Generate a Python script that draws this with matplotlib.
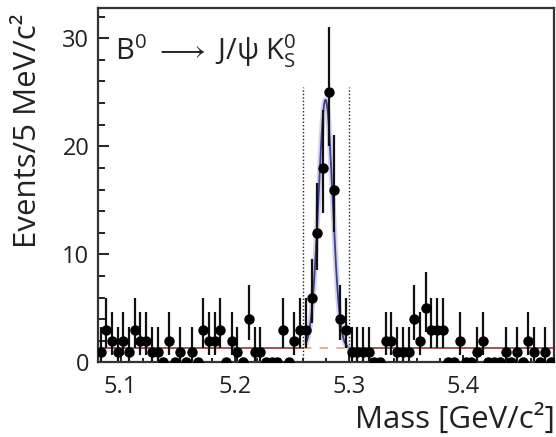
import numpy as np
import matplotlib.pyplot as plt

plt.rcParams['font.family'] = ['Open Sans', 'DejaVu Sans']
plt.rcParams['mathtext.fontset'] = 'custom'
plt.rcParams['mathtext.rm'] = 'Open Sans'
plt.rcParams['mathtext.it'] = 'Open Sans:italic'
plt.rcParams['mathtext.fallback'] = 'stixsans'

# candidates per 5 MeV bin, 5.08 - 5.48 GeV
counts = [1, 3, 2, 1, 2, 1, 3, 2, 2, 1, 1, 0, 2, 0, 1, 0, 1, 0, 3, 2,
          2, 3, 0, 2, 1, 0, 4, 1, 1, 0, 0, 0, 3, 0, 2, 3, 3, 6, 12, 18,
          25, 16, 4, 3, 1, 1, 1, 1, 0, 0, 2, 2, 1, 1, 1, 4, 2, 5, 3, 3,
          3, 0, 0, 2, 0, 0, 1, 2, 0, 0, 0, 1, 0, 1, 0, 2, 1, 0, 1, 0]
mass_lo, mass_hi = 5.08, 5.48
bin_width = 0.005

# fit result: gaussian signal over flat background
sig_mean = 5.2797
sig_sigma = 0.0062
sig_amp = 23.0
bkg_level = 1.3
window = (5.26, 5.30)

counts = np.array(counts, dtype=float)
centers = mass_lo + bin_width * (np.arange(len(counts)) + 0.5)

# approximate poisson intervals (Gehrels)
err_hi = np.sqrt(counts + 0.75) + 1.0
n_safe = np.where(counts > 0, counts, 1)
lower = n_safe * (1 - 1 / (9 * n_safe) - 1 / (3 * np.sqrt(n_safe))) ** 3
err_lo = counts - lower
nz = counts > 0

fig = plt.figure(figsize=(5.56, 4.37), dpi=100)
ax = fig.add_axes([0.1757, 0.1705, 0.8207, 0.8112])

# background line, solid outside the window, dashed underneath the peak
ax.plot([mass_lo, window[0]], [bkg_level] * 2, color='#8c3b3b', lw=1.2, zorder=2)
ax.plot([window[1], mass_hi], [bkg_level] * 2, color='#8c3b3b', lw=1.2, zorder=2)
ax.plot(window, [bkg_level] * 2, color='#e0a878', lw=1.2, ls=(0, (5, 5)), zorder=2)

# signal + background fit
xf = np.linspace(window[0] + 0.003, window[1] - 0.001, 200)
yf = bkg_level + sig_amp * np.exp(-0.5 * ((xf - sig_mean) / sig_sigma) ** 2)
ax.plot(xf, yf, color='#b4b6dc', lw=4, alpha=0.6, zorder=3)
ax.plot(xf, yf, color='#3b3f8c', lw=1.3, zorder=3)

# signal window
for w in window:
    ax.plot([w, w], [0, 25.5], color='#222222', lw=1.0, ls=(0, (1, 1.5)), zorder=2)

ax.errorbar(centers[nz], counts[nz], yerr=[err_lo[nz], err_hi[nz]], fmt='none',
            ecolor='#111111', elinewidth=1.6, capsize=0, zorder=4)
ax.plot(centers, counts, 'o', color='black', ms=6.5, zorder=5)

ax.set_xlim(mass_lo, mass_hi)
ax.set_ylim(0, 32.8)
ax.set_xticks([5.1, 5.2, 5.3, 5.4])
ax.set_xticklabels(['5.1', '5.2', '5.3', '5.4'])
ax.set_xticks(np.arange(5.08, 5.481, 0.02), minor=True)
ax.set_yticks([0, 10, 20, 30])
ax.set_yticks(np.arange(0, 32.1, 2), minor=True)
ax.tick_params(axis='both', which='both', direction='in', width=1.4, color='#222222',
               labelsize=17, labelcolor='#222222')
ax.tick_params(axis='y', which='major', length=8, pad=6)
ax.tick_params(axis='y', which='minor', length=5)
ax.tick_params(axis='x', which='major', length=5, pad=9)
ax.tick_params(axis='x', which='minor', length=3)
for s in ax.spines.values():
    s.set_linewidth(1.6)
    s.set_color('#333333')

ax.text(0.038, 28.0, r'B$^0$ $\longrightarrow$ J/ψ K$^0_{\mathrm{S}}$',
        transform=ax.get_yaxis_transform(),
        fontsize=21, color='#222222', va='baseline', ha='left')

fig.text(555 / 556, 1 - 428 / 437, 'Mass [GeV/c²]', ha='right', va='baseline',
         fontsize=22.5, color='#222222')
fig.text(28 / 556, 1 - 13 / 437, 'Events/5 MeV/c²', rotation=90, ha='center', va='top',
         fontsize=22.5, color='#222222')

fig.savefig('out.png', dpi=100)
